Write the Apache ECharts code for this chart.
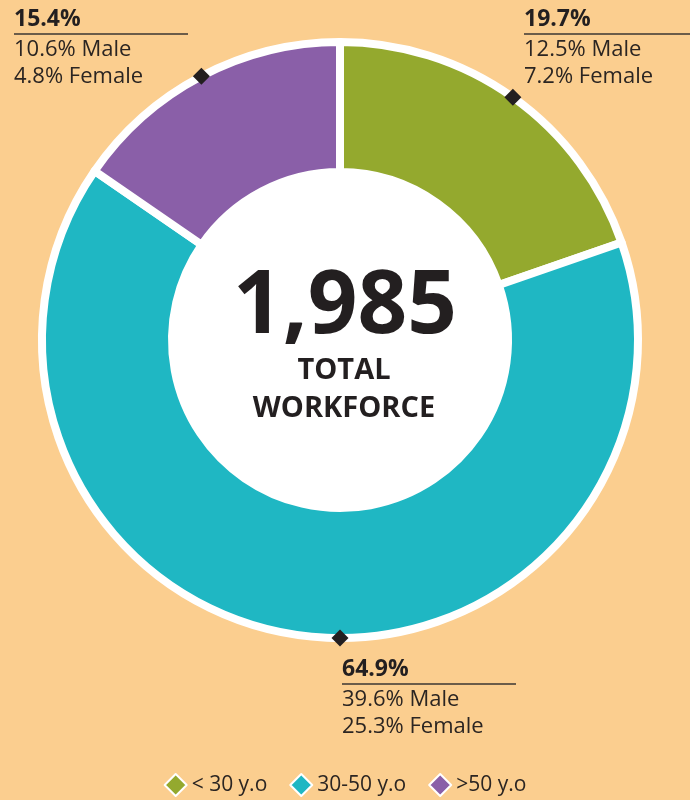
<!DOCTYPE html>
<html>
<head>
<meta charset="utf-8">
<script src="https://cdn.jsdelivr.net/npm/echarts@6/dist/echarts.min.js"></script>
<style>
html,body{margin:0;padding:0;background:#FBCE8F;}
#main{width:690px;height:800px;}
</style>
</head>
<body>
<div id="main"></div>
<script>
// ---- data ----
var categories = ['< 30 y.o', '30-50 y.o', '>50 y.o'];
var shares = [19.7, 64.9, 15.4];
var maleShares = [12.5, 39.6, 10.6];
var femaleShares = [7.2, 25.3, 4.8];
var markerAngles = [9.85, 50, 92.3];   // in % of the full turn
var totalWorkforce = '1,985';
var centerLabel = ['TOTAL', 'WORKFORCE'];

// ---- styles ----
var colors = ['#94A92E', '#1FB7C3', '#8A5FA8'];
var labelAnchors = [
  {x: 524, y: 7, w: 166},
  {x: 342, y: 657, w: 174},
  {x: 14, y: 7, w: 174}
];
var FONT = '"Open Sans", "Noto Sans", sans-serif';
var CX = 340, CY = 340;

var chart = echarts.init(document.getElementById('main'), null, {renderer: 'canvas'});

var pieData = categories.map(function (c, i) {
  return {
    name: c,
    value: shares[i],
    itemStyle: {color: colors[i]},
    label: {
      rich: {
        l: {width: labelAnchors[i].w, height: 1.5, backgroundColor: '#3b3632', lineHeight: 4}
      }
    }
  };
});

var option = {
  backgroundColor: '#FBCE8F',
  animation: false,
  color: colors,
  legend: {
    bottom: -2,
    left: 'center',
    icon: 'diamond',
    itemWidth: 22,
    itemHeight: 22,
    itemGap: 22,
    textStyle: {fontFamily: FONT, fontSize: 21, color: '#2b2522'},
    data: categories
  },
  polar: {center: [CX, CY], radius: 298},
  angleAxis: {type: 'value', min: 0, max: 100, startAngle: 90, clockwise: true, show: false},
  radiusAxis: {type: 'value', min: 0, max: 1, show: false},
  graphic: [
    {type: 'text', z: 100, x: CX + 5, y: 308, style: {text: totalWorkforce, font: 'bold 87px ' + FONT, fill: '#231F20', textAlign: 'center', textVerticalAlign: 'middle'}},
    {type: 'text', z: 100, x: CX + 4, y: 371, style: {text: centerLabel[0], font: 'bold 29px ' + FONT, fill: '#231F20', textAlign: 'center', textVerticalAlign: 'middle'}},
    {type: 'text', z: 100, x: CX + 4, y: 409, style: {text: centerLabel[1], font: 'bold 29px ' + FONT, fill: '#231F20', textAlign: 'center', textVerticalAlign: 'middle'}}
  ],
  series: [
    {
      type: 'pie',
      silent: true,
      center: [CX, CY],
      radius: [0, 172],
      label: {show: false},
      labelLine: {show: false},
      itemStyle: {color: '#ffffff'},
      data: [{name: 'inner', value: 1}],
      z: 1
    },
    {
      type: 'pie',
      name: 'workforce',
      center: [CX, CY],
      radius: [168, 298],
      startAngle: 90,
      clockwise: true,
      z: 2,
      itemStyle: {borderColor: '#ffffff', borderWidth: 8},
      label: {
        show: true,
        position: 'outside',
        overflow: 'none',
        formatter: function (p) {
          var i = p.dataIndex;
          return '{a|' + shares[i].toFixed(1) + '%}\n{l|}\n{b|' + maleShares[i].toFixed(1) + '% Male}\n{b|' + femaleShares[i].toFixed(1) + '% Female}';
        },
        rich: {
          a: {fontFamily: FONT, fontWeight: 'bold', fontSize: 23, color: '#231F20', lineHeight: 25},
          b: {fontFamily: FONT, fontSize: 22, color: '#2b2522', lineHeight: 27}
        }
      },
      labelLine: {show: false},
      labelLayout: function (params) {
        var a = labelAnchors[params.dataIndex];
        return {x: a.x, y: a.y, align: 'left', verticalAlign: 'top', moveOverlap: false, hideOverlap: false};
      },
      data: pieData
    },
    {
      type: 'scatter',
      coordinateSystem: 'polar',
      symbol: 'diamond',
      symbolSize: 17,
      silent: true,
      z: 5,
      itemStyle: {color: '#231F20', opacity: 1},
      data: markerAngles.map(function (a) { return [1, a]; })
    }
  ]
};
chart.setOption(option);
</script>
</body>
</html>
